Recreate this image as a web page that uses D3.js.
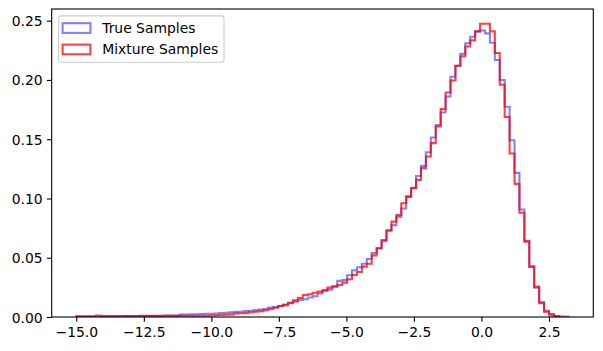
<!DOCTYPE html>
<html>
<head>
  <meta charset="UTF-8">
  <title>True vs Mixture Samples</title>
  <script src="https://d3js.org/d3.v7.min.js"></script>
  <style>
    html, body {
      margin: 0;
      padding: 0;
      background: #fff;
    }
    body {
      font-family: "DejaVu Sans", sans-serif;
    }
    .tick text {
      font-family: "DejaVu Sans", sans-serif;
      font-size: 13.9px;
      fill: #000;
    }
    .tick line {
      stroke: #000;
      stroke-width: 1.1;
    }
  </style>
</head>
<body>
  <div id="chart"></div>
  <script>
    // histogram bins (shared by both series)
    const binStart = -15.0;
    const binEnd = 3.23;
    const binCount = 100;

    // density per bin
    const trueSamples = [
      0.0004, 0.0004, 0.0004, 0.0004, 0.0004, 0.0004, 0.0004, 0.0004, 0.0004, 0.0004,
      0.0008, 0.0008, 0.0008, 0.0008, 0.0008, 0.0008, 0.0008, 0.0008, 0.0012, 0.0012,
      0.0012, 0.0020, 0.0021, 0.0022, 0.0023, 0.0025, 0.0027, 0.0028, 0.0030, 0.0034,
      0.0036, 0.0040, 0.0043, 0.0045, 0.0050, 0.0053, 0.0058, 0.0062, 0.0068, 0.0080,
      0.0085, 0.0093, 0.0105, 0.0116, 0.0130, 0.0144, 0.0150, 0.0165, 0.0175, 0.0198,
      0.0220, 0.0231, 0.0260, 0.0305, 0.0312, 0.0352, 0.0394, 0.0420, 0.0450, 0.0490,
      0.0540, 0.0580, 0.0640, 0.0730, 0.0775, 0.0845, 0.0916, 0.1016, 0.1090, 0.1190,
      0.1275, 0.1390, 0.1515, 0.1620, 0.1725, 0.1860, 0.2027, 0.2120, 0.2220, 0.2310,
      0.2365, 0.2410, 0.2417, 0.2393, 0.2314, 0.2168, 0.1999, 0.1774, 0.1492, 0.1216,
      0.0907, 0.0643, 0.0425, 0.0248, 0.0127, 0.0042, 0.0014, 0.0003
    ];
    const mixtureSamples = [
      0.0005, 0.0005, 0.0005, 0.0005, 0.0013, 0.0008, 0.0008, 0.0009, 0.0009, 0.0009,
      0.0009, 0.0009, 0.0009, 0.0010, 0.0010, 0.0010, 0.0010, 0.0010, 0.0010, 0.0010,
      0.0011, 0.0011, 0.0011, 0.0011, 0.0011, 0.0011, 0.0011, 0.0012, 0.0015, 0.0017,
      0.0020, 0.0022, 0.0030, 0.0031, 0.0033, 0.0040, 0.0045, 0.0048, 0.0057, 0.0068,
      0.0078, 0.0093, 0.0100, 0.0120, 0.0140, 0.0160, 0.0186, 0.0192, 0.0205, 0.0214,
      0.0228, 0.0248, 0.0256, 0.0270, 0.0290, 0.0318, 0.0355, 0.0380, 0.0425, 0.0450,
      0.0520, 0.0580, 0.0650, 0.0730, 0.0805, 0.0860, 0.0960, 0.1016, 0.1087, 0.1157,
      0.1256, 0.1354, 0.1467, 0.1607, 0.1754, 0.1894, 0.1996, 0.2120, 0.2200, 0.2283,
      0.2334, 0.2410, 0.2475, 0.2475, 0.2410, 0.2227, 0.1960, 0.1687, 0.1380, 0.1123,
      0.0880, 0.0636, 0.0425, 0.0256, 0.0116, 0.0053, 0.0025, 0.0008, 0.0004, 0.0002
    ];

    const seriesNames = ["True Samples", "Mixture Samples"];
    const seriesColors = ["blue", "red"];
    const seriesAlpha = [0.5, 0.75];

    const xTicks = [-15.0, -12.5, -10.0, -7.5, -5.0, -2.5, 0.0, 2.5];
    const yTicks = [0.00, 0.05, 0.10, 0.15, 0.20, 0.25];

    const W = 603, H = 351;
    const margin = { top: 9, right: 9.7, bottom: 34, left: 51.7 };
    const width = W - margin.left - margin.right;
    const height = H - margin.top - margin.bottom;

    const binWidth = (binEnd - binStart) / binCount;
    const edges = d3.range(binCount + 1).map(i => binStart + i * binWidth);

    const pad = (binEnd - binStart) * 0.05;
    const x = d3.scaleLinear()
      .domain([binStart - pad, binEnd + pad])
      .range([0, width]);

    const yMax = d3.max(trueSamples.concat(mixtureSamples)) * 1.05;
    const y = d3.scaleLinear()
      .domain([0, yMax])
      .range([height, 0]);

    const svg = d3.select("#chart")
      .append("svg")
      .attr("width", W)
      .attr("height", H)
      .append("g")
      .attr("transform", `translate(${margin.left}, ${margin.top})`);

    svg.append("clipPath")
      .attr("id", "plot-clip")
      .append("rect")
      .attr("width", width)
      .attr("height", height);

    // step outline: (e0,0) -> (e0,h0) -> (e1,h0) -> ... -> (eN,0)
    const stepPoints = values => {
      const pts = [[edges[0], 0]];
      values.forEach((v, i) => {
        pts.push([edges[i], v]);
        pts.push([edges[i + 1], v]);
      });
      pts.push([edges[values.length], 0]);
      return pts;
    };

    const line = d3.line()
      .x(d => x(d[0]))
      .y(d => y(d[1]));

    const plot = svg.append("g").attr("clip-path", "url(#plot-clip)");

    [trueSamples, mixtureSamples].forEach((vals, k) => {
      plot.append("path")
        .attr("d", line(stepPoints(vals)))
        .attr("fill", "none")
        .attr("stroke", seriesColors[k])
        .attr("stroke-opacity", seriesAlpha[k])
        .attr("stroke-width", 2.08)
        .attr("stroke-linejoin", "miter");
    });

    const tickLen = 4.86;

    svg.append("g")
      .attr("transform", `translate(0, ${height})`)
      .call(d3.axisBottom(x)
        .tickValues(xTicks)
        .tickFormat(d3.format(".1f"))
        .tickSize(tickLen)
        .tickPadding(4.6))
      .call(g => g.select(".domain").remove())
      .selectAll("text")
      .attr("dy", "0.76em");

    svg.append("g")
      .call(d3.axisLeft(y)
        .tickValues(yTicks)
        .tickFormat(d3.format(".2f"))
        .tickSize(tickLen)
        .tickPadding(4.2))
      .call(g => g.select(".domain").remove())
      .selectAll("text")
      .attr("dy", "0.36em");

    // spines
    svg.append("rect")
      .attr("width", width)
      .attr("height", height)
      .attr("fill", "none")
      .attr("stroke", "#000")
      .attr("stroke-width", 1.1);

    // legend
    const legend = svg.append("g")
      .attr("transform", "translate(6.9, 6.9)");

    legend.append("rect")
      .attr("width", 165.4)
      .attr("height", 46.4)
      .attr("rx", 2.8)
      .attr("fill", "#fff")
      .attr("fill-opacity", 0.8)
      .attr("stroke", "#cccccc")
      .attr("stroke-width", 1.1);

    seriesNames.forEach((name, k) => {
      const row = legend.append("g")
        .attr("transform", `translate(4, ${7.3 + k * 21.4})`);
      row.append("rect")
        .attr("width", 27.8)
        .attr("height", 9.7)
        .attr("fill", "none")
        .attr("stroke", seriesColors[k])
        .attr("stroke-opacity", seriesAlpha[k])
        .attr("stroke-width", 2.08);
      row.append("text")
        .attr("x", 39.6)
        .attr("y", 4.85)
        .attr("dy", "0.36em")
        .attr("font-size", "13.9px")
        .attr("fill", "#000")
        .text(name);
    });
  </script>
</body>
</html>
